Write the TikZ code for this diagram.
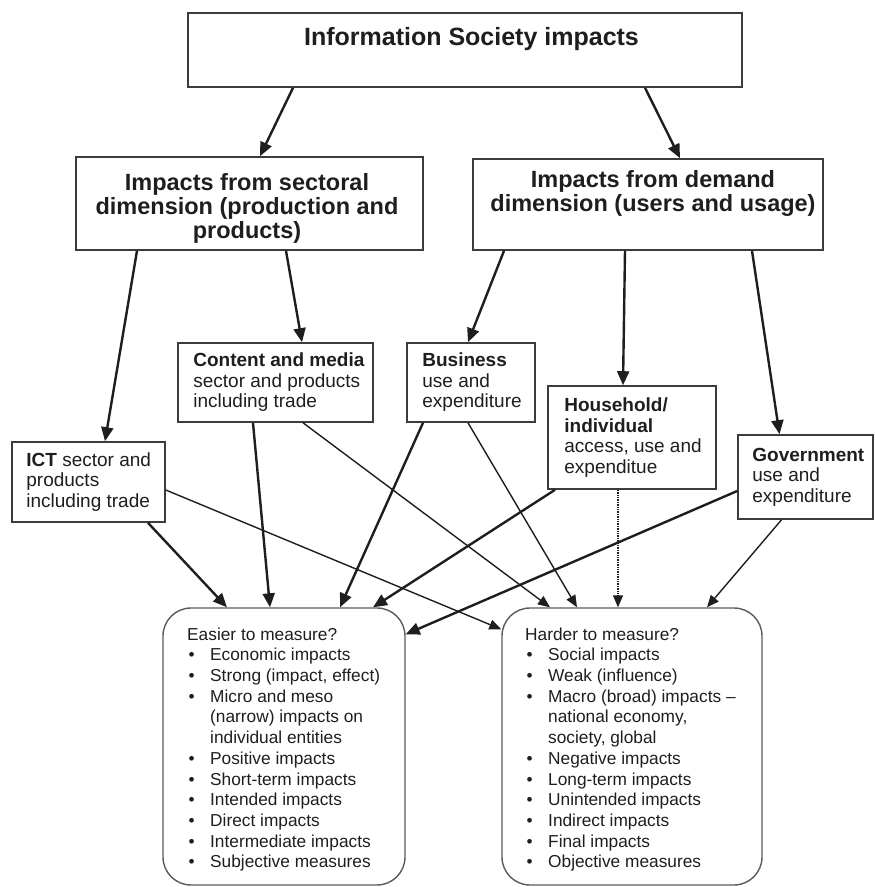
\documentclass[tikz,border=0pt]{standalone}
\usepackage{fontspec}
\setmainfont{Liberation Sans}
\usetikzlibrary{arrows.meta}
\definecolor{ink}{HTML}{1E1E1E}
\definecolor{frame}{HTML}{3C3C3C}
\definecolor{softframe}{HTML}{5A5A5A}
% bullet line and continuation line of the two lists
\newcommand{\listpt}[1]{\makebox[23pt][l]{\hspace{1.5pt}\textbullet}#1}
\newcommand{\listcont}[1]{\hspace*{23pt}#1}

\begin{document}
\begin{tikzpicture}[x=1pt,y=-1pt,
  box/.style={draw=frame, line width=1.6pt, inner sep=0pt},
  rbox/.style={draw=softframe, line width=1.4pt, rounded corners=28pt, inner sep=0pt},
  headtext/.style={font=\bfseries\fontsize{23.5}{24}\selectfont, align=center, inner sep=0pt, text=ink},
  boxtext/.style={font=\fontsize{19}{20.5}\selectfont, align=left, inner sep=0pt, anchor=west, text=ink},
  listtext/.style={font=\fontsize{17.3}{20.7}\selectfont, align=left, inner sep=0pt, anchor=north west, text=ink},
  link/.style={draw=ink, line width=2.4pt, -{Triangle[length=14pt,width=12pt]}},
  thinlink/.style={draw=ink, line width=1.4pt, -{Triangle[length=12pt,width=10pt]}},
  dotlink/.style={thinlink, densely dotted},
]
\useasboundingbox (0,0) rectangle (875,887);

% boxes
\node[box, minimum width=554pt, minimum height=74pt] (top) at (465,50) {};
\node[box, minimum width=347pt, minimum height=93pt] (sect) at (249.5,203.5) {};
\node[box, minimum width=350pt, minimum height=91pt] (dem) at (648,204.5) {};
\node[box, minimum width=195pt, minimum height=79pt] (cont) at (275.5,382.5) {};
\node[box, minimum width=128pt, minimum height=79pt] (bus) at (471,382.5) {};
\node[box, minimum width=168pt, minimum height=103pt] (hh) at (632,437.5) {};
\node[box, minimum width=135pt, minimum height=84pt] (gov) at (805.5,477) {};
\node[box, minimum width=153pt, minimum height=80pt] (ict) at (88.5,482) {};
\node[rbox, minimum width=242pt, minimum height=277pt] (easy) at (284,746.5) {};
\node[rbox, minimum width=260pt, minimum height=277pt] (hard) at (632,746.5) {};

% texts
\node[font=\bfseries\fontsize{25}{27}\selectfont, anchor=base, inner sep=0pt, text=ink] (toptxt) at (471.5,45) {Information Society impacts};
\node[headtext, anchor=north] (secttxt) at (247,173) {Impacts from sectoral\\dimension (production and\\products)};
\node[headtext, anchor=north] (demtxt) at (653,170) {Impacts from demand\\dimension (users and usage)};
\node[boxtext] (conttxt) at ([xshift=16pt]cont.west) {\textbf{Content and media}\\sector and products\\including trade};
\node[boxtext] (bustxt) at ([xshift=16pt]bus.west) {\textbf{Business}\\use and\\expenditure};
\node[boxtext] (hhtxt) at ([xshift=17pt]hh.west) {\textbf{Household/}\\\textbf{individual}\\access, use and\\expenditue};
\node[boxtext] (govtxt) at ([xshift=15pt]gov.west) {\textbf{Government}\\use and\\expenditure};
\node[boxtext] (icttxt) at ([xshift=15pt]ict.west) {\textbf{ICT} sector and\\products\\including trade};

\node[listtext] (easytxt) at (187,627.4) {Easier to measure?\\%
\listpt{Economic impacts}\\%
\listpt{Strong (impact, effect)}\\%
\listpt{Micro and meso}\\%
\listcont{(narrow) impacts on}\\%
\listcont{individual entities}\\%
\listpt{Positive impacts}\\%
\listpt{Short-term impacts}\\%
\listpt{Intended impacts}\\%
\listpt{Direct impacts}\\%
\listpt{Intermediate impacts}\\%
\listpt{Subjective measures}};

\node[listtext] (hardtxt) at (525,627.4) {Harder to measure?\\%
\listpt{Social impacts}\\%
\listpt{Weak (influence)}\\%
\listpt{Macro (broad) impacts –}\\%
\listcont{national economy,}\\%
\listcont{society, global}\\%
\listpt{Negative impacts}\\%
\listpt{Long-term impacts}\\%
\listpt{Unintended impacts}\\%
\listpt{Indirect impacts}\\%
\listpt{Final impacts}\\%
\listpt{Objective measures}};

% upper tree
\draw[link] ([xshift=-172pt]top.south) -- ([xshift=10.5pt]sect.north);
\draw[link] ([xshift=180pt]top.south) -- ([xshift=32pt]dem.north);
\draw[link] ([xshift=-112.5pt]sect.south) -- ([xshift=16.5pt]ict.north);
\draw[link] ([xshift=36.5pt]sect.south) -- ([xshift=26.5pt]cont.north);
\draw[link] ([xshift=-144pt]dem.south) -- ([xshift=-3pt]bus.north);
\draw[link] ([xshift=-23pt]dem.south) -- ([xshift=-9pt]hh.north);
\draw[link] ([xshift=104pt]dem.south) -- ([xshift=-26pt]gov.north);

% links to the easier box
\draw[link] ([xshift=59.5pt]ict.south) -- ([xshift=-57pt]easy.north);
\draw[link] ([xshift=-22.5pt]cont.south) -- ([xshift=-14pt]easy.north);
\draw[link] ([xshift=-48pt]bus.south) -- ([xshift=56pt]easy.north);
\draw[link] ([xshift=-77pt]hh.south) -- ([xshift=89pt]easy.north);
\draw[link] ([yshift=-14pt]gov.west) -- ([yshift=-27pt]easy.north east);

% links to the harder box
\draw[thinlink] ([yshift=-8pt]ict.east) -- ([yshift=-22pt]hard.north west);
\draw[thinlink] ([xshift=27.5pt]cont.south) -- ([xshift=-82pt]hard.north);
\draw[thinlink] ([xshift=-3pt]bus.south) -- ([xshift=-55pt]hard.north);
\draw[dotlink] ([xshift=-14pt]hh.south) -- ([xshift=-14pt]hard.north);
\draw[thinlink] ([xshift=-24pt]gov.south) -- ([xshift=75pt]hard.north);
\end{tikzpicture}
\end{document}
